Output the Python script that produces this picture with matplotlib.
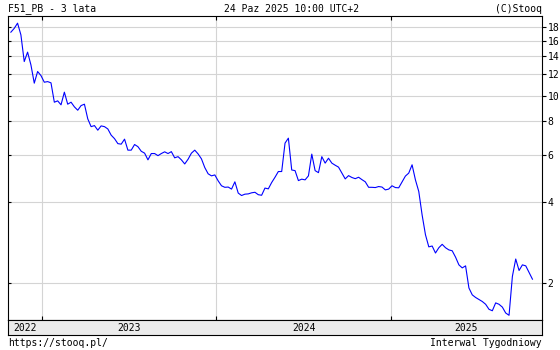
import matplotlib
matplotlib.use('Agg')
import numpy as np
import pandas as pd
import matplotlib.pyplot as plt
import matplotlib.dates as mdates
import matplotlib.transforms as mtrans
from matplotlib.ticker import FixedLocator, NullLocator, NullFormatter

# weekly closes, F51_PB, last 3 years
dates = pd.date_range('2022-10-28', periods=157, freq='W-FRI')
prices = [
    17.24, 17.81, 18.63, 16.85, 13.39, 14.52, 13.01, 11.12, 12.29, 11.87,
    11.21, 11.27, 11.15, 9.44, 9.55, 9.23, 10.29, 9.28, 9.44, 9.07,
    8.81, 9.17, 9.28, 8.18, 7.65, 7.72, 7.42, 7.70, 7.65, 7.50,
    7.11, 6.90, 6.61, 6.58, 6.87, 6.25, 6.25, 6.56, 6.44, 6.19,
    6.09, 5.75, 6.07, 6.07, 5.96, 6.07, 6.16, 6.07, 6.17, 5.85,
    5.91, 5.75, 5.55, 5.78, 6.09, 6.25, 6.05, 5.80, 5.38, 5.10,
    5.01, 5.05, 4.80, 4.60, 4.54, 4.55, 4.47, 4.76, 4.32, 4.23,
    4.28, 4.29, 4.33, 4.35,
    4.26, 4.24, 4.51, 4.48, 4.73, 4.95, 5.20, 5.20, 6.64, 6.93,
    5.27, 5.24, 4.81, 4.87, 4.84, 5.01, 6.04, 5.24, 5.15, 5.91,
    5.59, 5.83, 5.59, 5.49, 5.40, 5.13, 4.88, 5.02, 4.94, 4.89,
    4.95, 4.85, 4.76, 4.54, 4.54, 4.53, 4.57, 4.55, 4.44, 4.47,
    4.60, 4.53, 4.52, 4.75, 5.00, 5.13, 5.51, 4.84,
    4.38, 3.58, 3.02, 2.72, 2.74, 2.58, 2.70, 2.78, 2.70, 2.65,
    2.63, 2.49, 2.33, 2.27, 2.31, 1.91, 1.80, 1.76, 1.73, 1.70,
    1.66, 1.59, 1.57, 1.68, 1.66, 1.62, 1.54, 1.51, 2.11, 2.45,
    2.22, 2.33, 2.31, 2.18, 2.06,
]
yticks = [2, 4, 6, 8, 10, 12, 14, 16, 18]
years = [2022, 2023, 2024, 2025]
x_start, x_end = pd.Timestamp('2022-10-22'), pd.Timestamp('2025-11-13')

W, H = 560, 350
fig = plt.figure(figsize=(W / 100, H / 100), dpi=100)
plt.rcParams['font.family'] = 'DejaVu Sans Mono'
FS = 7


def fx(px):
    return px / W


def fy(py):
    return 1 - py / H


ax = fig.add_axes([fx(8), fy(320), fx(542) - fx(8), fy(15.5) - fy(320)])
strip = fig.add_axes([fx(8), fy(335), fx(542) - fx(8), fy(320) - fy(335)], sharex=ax)

ax.plot(dates, prices, color='#0000ff', lw=0.8)
ax.set_yscale('log')
ax.set_ylim(1.45, 19.9)
ax.set_xlim(x_start, x_end)

ax.yaxis.set_major_locator(FixedLocator(yticks))
ax.yaxis.set_minor_locator(NullLocator())
ax.set_yticks(yticks, [str(t) for t in yticks])
ax.yaxis.set_minor_formatter(NullFormatter())
ax.tick_params(axis='y', which='major', direction='out', length=3, width=0.8,
               left=False, right=True, labelleft=False, labelright=True,
               labelsize=FS, pad=1)

# small inward ticks on the left border
ytr = ax.get_yaxis_transform()
for t in yticks:
    ax.plot([0, 3 / 534], [t, t], transform=ytr, color='black', lw=0.8,
            clip_on=False, solid_capstyle='butt')

ax.xaxis.set_major_locator(mdates.YearLocator())
ax.tick_params(axis='x', direction='in', length=3, width=0.8,
               top=True, bottom=True, labelbottom=False)
ax.grid(True, which='major', color='#d4d4d4', lw=0.8)
ax.set_axisbelow(True)
for sp in ax.spines.values():
    sp.set_linewidth(0.8)

strip.set_facecolor('#ebebeb')
strip.set_yticks([])
strip.tick_params(axis='x', length=0, labelbottom=False)
for sp in strip.spines.values():
    sp.set_linewidth(0.8)
trans = mtrans.blended_transform_factory(strip.transData, strip.transAxes)
for yr in years:
    a = max(pd.Timestamp(f'{yr}-01-01'), x_start)
    b = min(pd.Timestamp(f'{yr + 1}-01-01'), x_end)
    mid = a + (b - a) / 2
    strip.text(mid, 0.45, str(yr), transform=trans, ha='center', va='center', fontsize=FS)

fig.text(fx(8), fy(11.5), 'F51_PB - 3 lata', fontsize=FS, ha='left', va='baseline')
fig.text(fx(224), fy(11.5), '24 Paz 2025 10:00 UTC+2', fontsize=FS, ha='left', va='baseline')
fig.text(fx(542), fy(11.5), '(C)Stooq', fontsize=FS, ha='right', va='baseline')
fig.text(fx(8), fy(346), 'https://stooq.pl/', fontsize=FS, ha='left', va='baseline')
fig.text(fx(542), fy(346), 'Interwal Tygodniowy', fontsize=FS, ha='right', va='baseline')

fig.savefig('out.png', dpi=100)
